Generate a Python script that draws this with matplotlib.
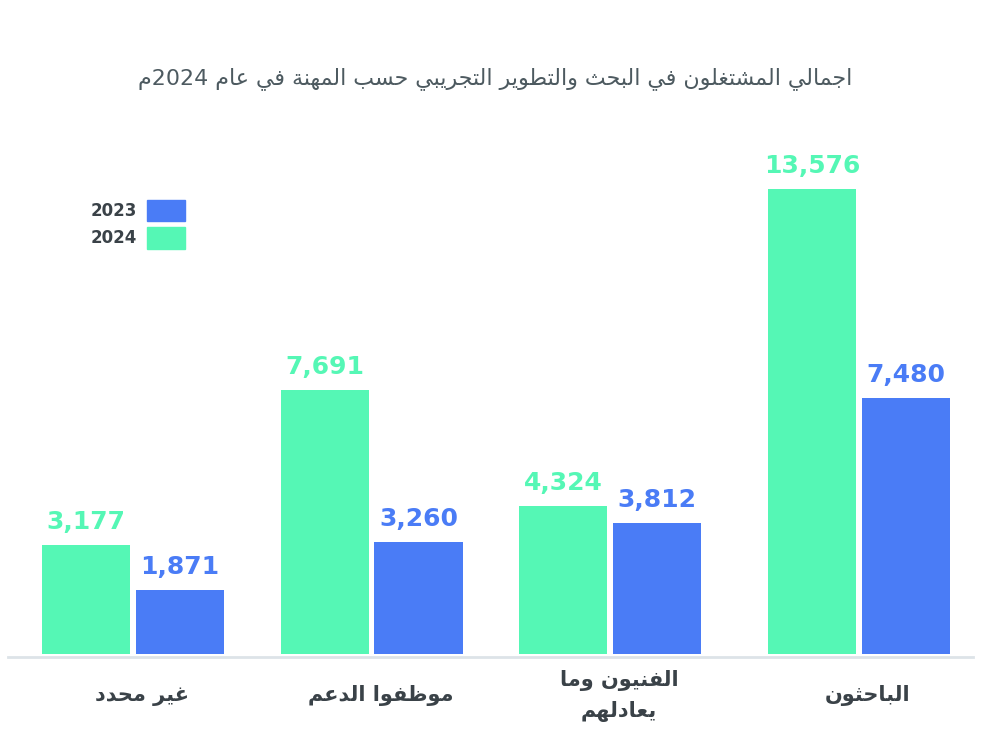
#!/usr/bin/python
"""R&D employees by occupation, 2023 vs 2024 (grouped bars)
"""

import re
import matplotlib
matplotlib.use("Agg")
import matplotlib.pyplot as plt
import matplotlib.transforms as mtransforms
import numpy as np
from matplotlib.patches import Patch

title = "اجمالي المشتغلون في البحث والتطوير التجريبي حسب المهنة في عام 2024م"
categories = ["غير محدد", "موظفوا الدعم", "الفنيون وما\nيعادلهم", "الباحثون"]
values_2024 = [3177, 7691, 4324, 13576]
values_2023 = [1871, 3260, 3812, 7480]
series_names = ["2023", "2024"]

green = "#55F7B5"
blue = "#4A7CF6"
dark = "#3a4248"

# --- tiny arabic shaper (matplotlib has no complex text layout) ---
dual = {"ب": 0xFE8F, "ت": 0xFE95, "ث": 0xFE99, "ج": 0xFE9D, "ح": 0xFEA1,
        "خ": 0xFEA5, "س": 0xFEB1, "ش": 0xFEB5, "ص": 0xFEB9, "ض": 0xFEBD,
        "ط": 0xFEC1, "ظ": 0xFEC5, "ع": 0xFEC9, "غ": 0xFECD, "ف": 0xFED1,
        "ق": 0xFED5, "ك": 0xFED9, "ل": 0xFEDD, "م": 0xFEE1, "ن": 0xFEE5,
        "ه": 0xFEE9, "ي": 0xFEF1}
right = {"ا": 0xFE8D, "د": 0xFEA9, "ذ": 0xFEAB, "ر": 0xFEAD, "ز": 0xFEAF,
         "و": 0xFEED, "ة": 0xFE93, "ى": 0xFEEF}


def shape_line(s):
    out = []
    chars = list(s)
    i = 0
    while i < len(chars):
        c = chars[i]
        nxt = chars[i + 1] if i + 1 < len(chars) else ""
        prv = chars[i - 1] if i > 0 else ""
        joins_prev = prv in dual
        if c == "ل" and nxt == "ا":  # lam-alef ligature
            out.append(chr(0xFEFC if joins_prev else 0xFEFB))
            i += 2
            continue
        joins_next = c in dual and (nxt in dual or nxt in right)
        if c in dual:
            b = dual[c]
            if joins_prev and joins_next:
                out.append(chr(b + 3))
            elif joins_prev:
                out.append(chr(b + 1))
            elif joins_next:
                out.append(chr(b + 2))
            else:
                out.append(chr(b))
        elif c in right:
            out.append(chr(right[c] + (1 if joins_prev else 0)))
        else:
            out.append(c)
        i += 1
    vis = "".join(out)[::-1]
    # digits keep left-to-right order
    return re.sub(r"[0-9]+", lambda m: m.group(0)[::-1], vis)


def ar(s):
    return "\n".join(shape_line(l) for l in s.split("\n"))


fig = plt.figure(figsize=(10, 7.51), dpi=100)
ax = fig.add_axes([0.008, 0.1252, 0.965, 0.715])

x = np.array([0, 0.9855, 1.971, 3.0])
w = 0.364
off = 0.194
b24 = ax.bar(x - off, values_2024, w, color=green, label=series_names[1])
b23 = ax.bar(x + off, values_2023, w, color=blue, label=series_names[0])

for bars, vals, col in [(b24, values_2024, green), (b23, values_2023, blue)]:
    for rect, v in zip(bars, vals):
        ax.annotate("{:,}".format(v), (rect.get_x() + rect.get_width() / 2, v),
                    xytext=(0, 8), textcoords="offset points", ha="center", va="bottom",
                    fontsize=18, fontweight="bold", color=col)

ax.set_xlim(-0.517, 3.471)
ax.set_ylim(-88, 15586)
ax.set_yticks([])
ax.set_xticks(x)
ax.set_xticklabels([ar(c) for c in categories], fontsize=15, fontweight="bold",
                   color=dark, linespacing=1.6, va="center")
ax.tick_params(axis="x", length=0, pad=28)
shift = mtransforms.ScaledTranslation(9 / 100, 0, fig.dpi_scale_trans)
for lbl in ax.get_xticklabels():
    lbl.set_transform(lbl.get_transform() + shift)
for s in ["top", "right", "left"]:
    ax.spines[s].set_visible(False)
ax.spines["bottom"].set_color("#dde3e8")
ax.spines["bottom"].set_linewidth(2)

fig.text(0.495, 0.896, ar(title), ha="center", va="center", fontsize=15.9, color="#4d5a60")

handles = [Patch(color=blue), Patch(color=green)]
ax.legend(handles, series_names, loc="upper left", bbox_to_anchor=(0.07, 0.879),
          frameon=False, markerfirst=False, handlelength=2.3, handleheight=1.6,
          handletextpad=0.6, labelspacing=0.35,
          prop={"size": 12, "weight": "bold"}, labelcolor=dark)

plt.savefig("out.png")
